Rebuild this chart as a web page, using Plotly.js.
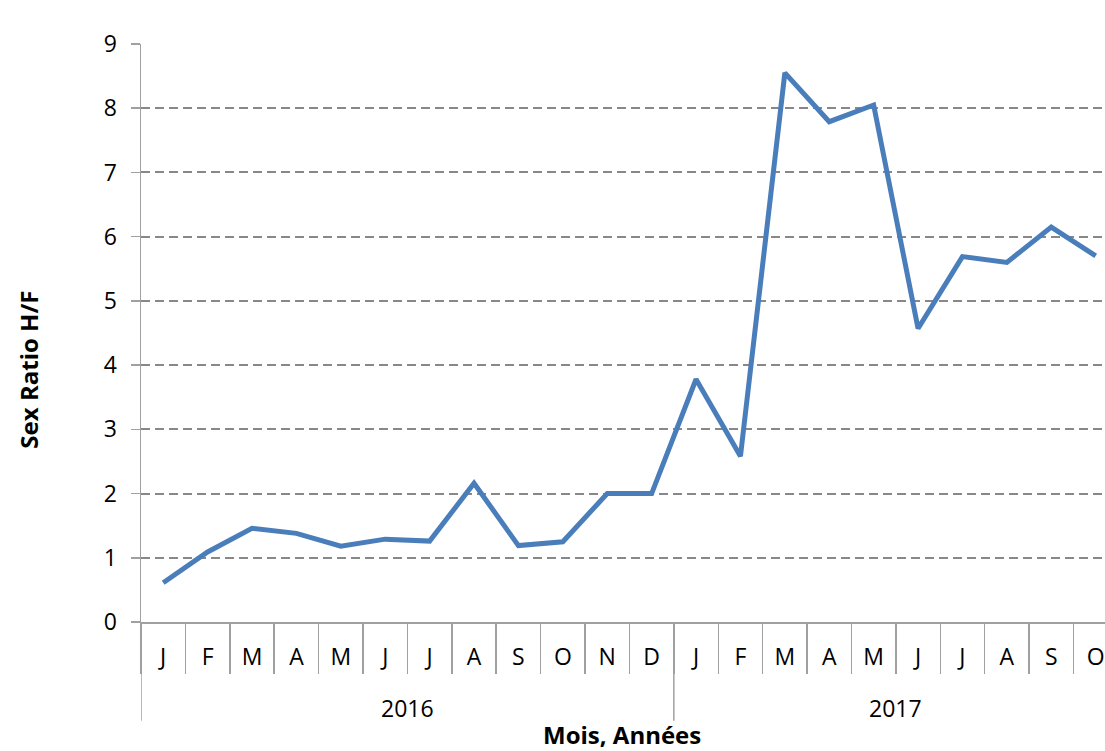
<!DOCTYPE html>
<html>
<head>
<meta charset="utf-8">
<script src="https://cdn.plot.ly/plotly-3.0.1.min.js"></script>
<style>html,body{margin:0;padding:0;background:#fff;}#chart{width:1105px;height:751px;}</style>
</head>
<body>
<div id="chart"></div>
<script>
// Data
const years = ['2016','2016','2016','2016','2016','2016','2016','2016','2016','2016','2016','2016',
               '2017','2017','2017','2017','2017','2017','2017','2017','2017','2017'];
const months = ['J','F','M','A','M','J','J','A','S','O','N','D',
                'J','F','M','A','M','J','J','A','S','O'];
const sexRatio = [0.61,1.09,1.46,1.38,1.18,1.29,1.26,2.16,1.19,1.25,2.0,2.0,
                  3.78,2.58,8.55,7.79,8.05,4.57,5.69,5.60,6.15,5.70];
const yearLabels = ['2016','2017'];

const keys = months.map((m,i) => years[i] + '-' + i);
const axisGrey = '#a0a0a0';
const font = 'Open Sans, Noto Sans, sans-serif';

const trace = {
  x: keys, y: sexRatio, type: 'scatter', mode: 'lines',
  line: {color: '#4a7ebb', width: 5}, hoverinfo: 'skip'
};

const annotations = yearLabels.map(yr => {
  const idx = years.map((y,i)=> y===yr ? i : -1).filter(i=>i>=0);
  const first = idx[0];
  const center = (first + (first + (yr==='2017' ? 9 : idx.length-1))) / 2;
  return {x: center, y: -0.148, xref: 'x', yref: 'paper', text: yr, showarrow: false,
          font: {family: font, size: 23, color: '#000'}, xanchor: 'center', yanchor: 'middle'};
});
annotations.push({x: 0.499, y: -0.195, xref: 'paper', yref: 'paper', text: '<b>Mois, Années</b>', showarrow: false,
  font: {family: font, size: 24, color: '#000'}, xanchor: 'center', yanchor: 'middle'});
annotations.push({x: -0.117, y: 0.437, xref: 'paper', yref: 'paper', text: '<b>Sex Ratio H/F</b>', showarrow: false,
  textangle: -90, font: {family: font, size: 24, color: '#000'}, xanchor: 'center', yanchor: 'middle'});

const shapes = [];
yearLabels.forEach(yr => {
  const first = years.indexOf(yr);
  shapes.push({type: 'line', xref: 'x', yref: 'paper', x0: first - 0.5, x1: first - 0.5,
    y0: 0, y1: -0.171, line: {color: axisGrey, width: 1.5}});
});

const layout = {
  width: 1105, height: 751,
  margin: {l: 141, r: 0, t: 44, b: 129},
  paper_bgcolor: '#fff', plot_bgcolor: '#fff',
  showlegend: false,
  font: {family: font, size: 23, color: '#000'},
  xaxis: {
    type: 'category', range: [-0.5, 21.21],
    tickmode: 'array', tickvals: keys, ticktext: months,
    tickson: 'boundaries', ticks: 'outside', ticklen: 50, tickwidth: 1.5, tickcolor: axisGrey,
    ticklabelstandoff: 14,
    showline: true, linecolor: axisGrey, linewidth: 1.5,
    showgrid: false, zeroline: false,
    tickfont: {family: font, size: 23, color: '#000'}
  },
  yaxis: {
    range: [0, 9], dtick: 1, tick0: 0,
    showline: true, linecolor: axisGrey, linewidth: 1.5,
    ticks: 'outside', ticklen: 9, tickwidth: 1.5, tickcolor: axisGrey,
    ticklabelstandoff: 9,
    showgrid: true, gridcolor: '#888888', gridwidth: 2, griddash: '9px,5px',
    zeroline: false,
    tickfont: {family: font, size: 23, color: '#000'}
  },
  shapes: shapes,
  annotations: annotations
};

Plotly.newPlot('chart', [trace], layout, {staticPlot: true, displayModeBar: false});
</script>
</body>
</html>
